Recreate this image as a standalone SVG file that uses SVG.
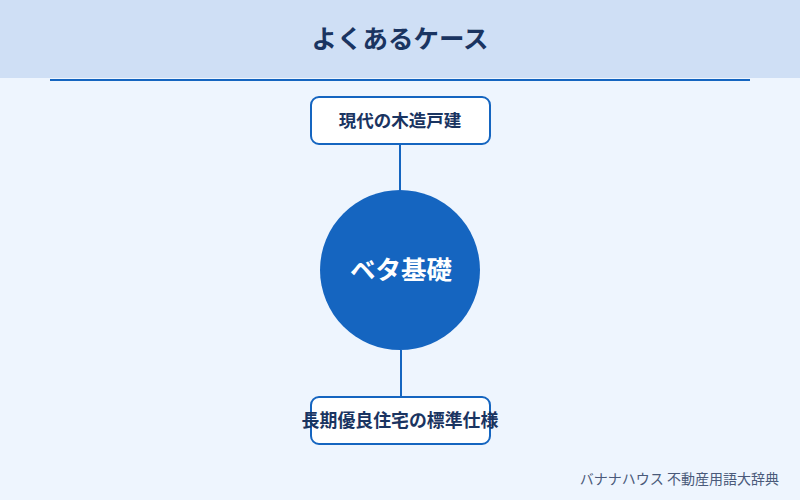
<svg xmlns="http://www.w3.org/2000/svg" width="800" height="500" viewBox="0 0 800 500">
<style>
text{font-family:"Noto Sans CJK JP","Noto Sans",sans-serif;}
.box{fill:#ffffff;stroke:#1565c0;stroke-width:2;}
.lbl{font-size:17.5px;font-weight:bold;fill:#1a3461;text-anchor:middle;}
.conn{stroke:#1565c0;stroke-width:2;fill:none;}
</style>
<rect x="0" y="0" width="800" height="500" fill="#eef5fe"/>
<rect x="0" y="0" width="800" height="78" fill="#cfdff5"/>
<text x="400" y="48" font-size="25.5" font-weight="bold" fill="#1a3461" text-anchor="middle">よくあるケース</text>
<line x1="50" y1="80" x2="750" y2="80" stroke="#1565c0" stroke-width="2"/>
<g id="connectors">
<line class="conn" x1="400" y1="144" x2="400" y2="190"/>
<line class="conn" x1="401" y1="350" x2="401" y2="397"/>
</g>
<g id="node-top">
<rect class="box" x="311" y="97" width="179" height="47" rx="8"/>
<text class="lbl" x="400" y="126.5">現代の木造戸建</text>
</g>
<g id="node-center">
<circle cx="400" cy="270" r="80" fill="#1565c0"/>
<text x="401" y="279" font-size="25.5" font-weight="bold" fill="#ffffff" text-anchor="middle">ベタ基礎</text>
</g>
<g id="node-bottom">
<rect class="box" x="311" y="397" width="179" height="47" rx="8"/>
<text class="lbl" x="400" y="426.5" font-size="17.9px" style="font-size:17.9px">長期優良住宅の標準仕様</text>
</g>
<text x="779" y="484" font-size="14" fill="#4a5a7a" text-anchor="end">バナナハウス 不動産用語大辞典</text>
</svg>
